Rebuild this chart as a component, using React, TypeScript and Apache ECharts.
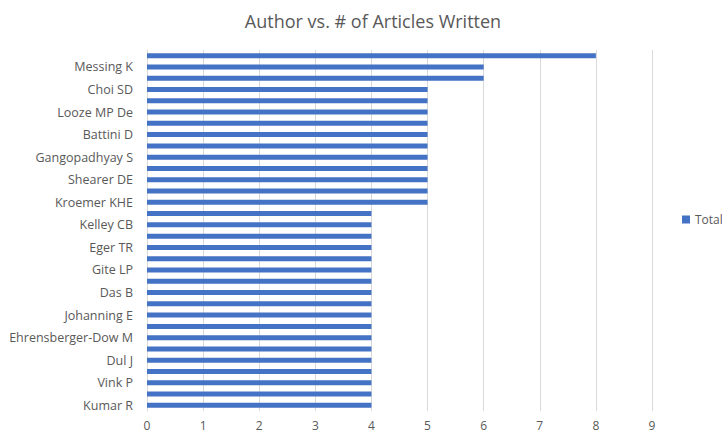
import React, { useEffect, useRef } from "react";
import * as echarts from "echarts";

const authors: string[] = [
  "Kumar R", "Author 2", "Vink P", "Author 4", "Dul J", "Author 6",
  "Ehrensberger-Dow M", "Author 8", "Johanning E", "Author 10", "Das B", "Author 12",
  "Gite LP", "Author 14", "Eger TR", "Author 16", "Kelley CB", "Author 18",
  "Kroemer KHE", "Author 20", "Shearer DE", "Author 22", "Gangopadhyay S", "Author 24",
  "Battini D", "Author 26", "Looze MP De", "Author 28", "Choi SD", "Author 30",
  "Messing K", "Author 32",
];

const totals: number[] = [
  4, 4, 4, 4, 4, 4, 4, 4, 4, 4, 4, 4, 4, 4, 4, 4, 4, 4,
  5, 5, 5, 5, 5, 5, 5, 5, 5, 5, 5,
  6, 6, 8,
];

const xTicks: number[] = [0, 1, 2, 3, 4, 5, 6, 7, 8, 9];

export default function App() {
  const ref = useRef<HTMLDivElement>(null);
  useEffect(() => {
    if (!ref.current) return;
    const chart = echarts.init(ref.current, null, { renderer: "svg" });
    const font = "'Open Sans', sans-serif";
    chart.setOption({
      animation: false,
      textStyle: { fontFamily: font },
      title: {
        text: "Author vs. # of Articles Written",
        left: 368,
        top: 7,
        textAlign: "center",
        textStyle: { fontSize: 18, fontWeight: "normal", color: "#595959", fontFamily: font },
      },
      legend: {
        data: ["Total"],
        left: 677,
        top: "middle",
        itemWidth: 8,
        itemHeight: 8,
        itemGap: 4,
        icon: "rect",
        textStyle: { fontSize: 12, color: "#595959", fontFamily: font },
      },
      grid: { left: 147, right: 70, top: 50, bottom: 28, containLabel: false },
      xAxis: {
        type: "value",
        min: xTicks[0],
        max: xTicks[xTicks.length - 1],
        interval: 1,
        axisLine: { show: false },
        axisTick: { show: false },
        axisLabel: { color: "#595959", fontSize: 12, margin: 8, fontFamily: font },
        splitLine: { show: true, lineStyle: { color: "#d9d9d9", width: 1 } },
      },
      yAxis: {
        type: "category",
        data: authors,
        axisLine: { show: true, lineStyle: { color: "#d9d9d9" } },
        axisTick: { show: false },
        axisLabel: { interval: 1, color: "#595959", fontSize: 12.5, margin: 14, fontFamily: font },
      },
      series: [
        {
          name: "Total",
          type: "bar",
          data: totals,
          barWidth: 5,
          itemStyle: { color: "#4472C4" },
        },
      ],
    });
    return () => chart.dispose();
  }, []);
  return <div ref={ref} style={{ width: 722, height: 439, position: "absolute", left: 0, top: 0, background: "#fff" }} />;
}
